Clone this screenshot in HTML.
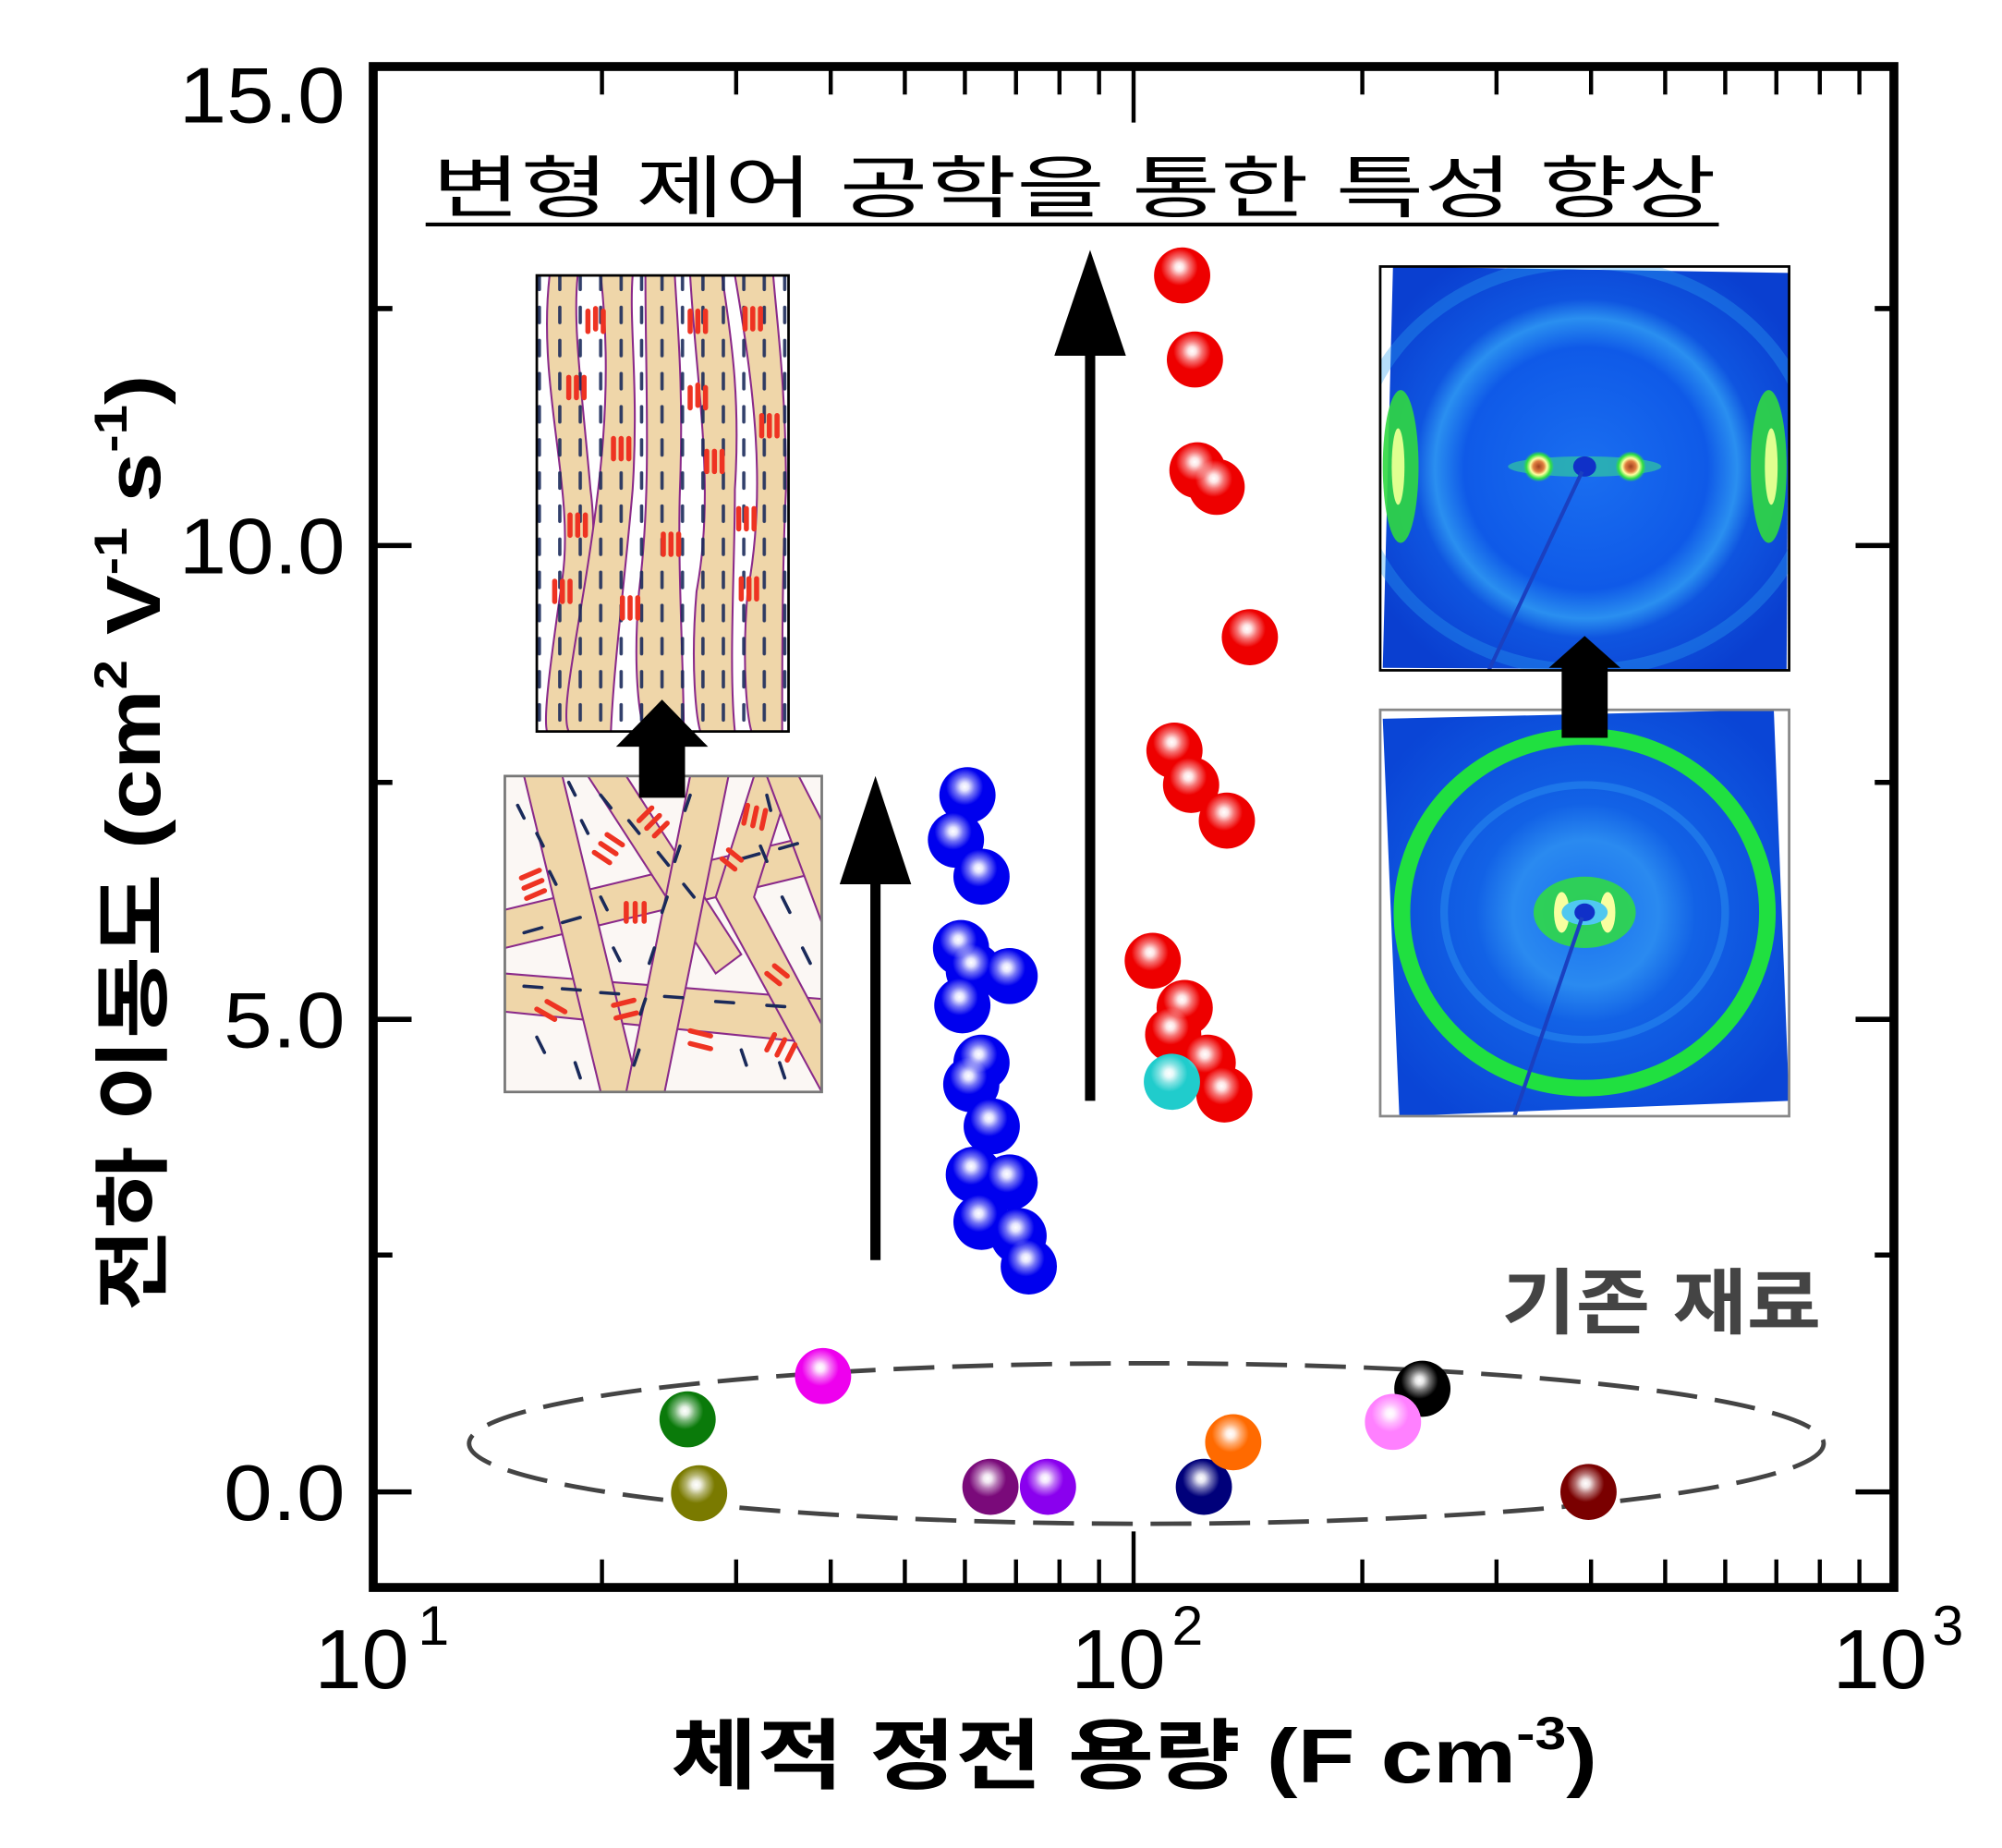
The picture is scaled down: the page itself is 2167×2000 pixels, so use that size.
<!DOCTYPE html>
<html><head><meta charset="utf-8"><style>
html,body{margin:0;padding:0;background:#fff}
svg{display:block}
text{font-family:"Liberation Sans","Noto Sans CJK KR",sans-serif}
</style></head><body>
<svg width="2167" height="2000" viewBox="0 0 2167 2000" xmlns="http://www.w3.org/2000/svg">
<defs>
<radialGradient id="sh" cx="0.45" cy="0.35" r="0.6">
<stop offset="0" stop-color="#fff" stop-opacity="1"/>
<stop offset="0.12" stop-color="#fff" stop-opacity="0.9"/>
<stop offset="0.3" stop-color="#fff" stop-opacity="0.45"/>
<stop offset="0.55" stop-color="#fff" stop-opacity="0"/>
</radialGradient>
<pattern id="dv" width="16" height="26" patternUnits="userSpaceOnUse">
<line x1="6" y1="3" x2="6" y2="15" stroke="#1a2a5a" stroke-width="2.6" stroke-linecap="round"/>
</pattern>
<radialGradient id="bgTop" cx="0.5" cy="0.5" r="0.6">
<stop offset="0" stop-color="#1a6ef0"/>
<stop offset="0.5" stop-color="#0f5ae8"/>
<stop offset="0.62" stop-color="#2a8ff0"/>
<stop offset="0.7" stop-color="#0f55e0"/>
<stop offset="1" stop-color="#0a3fd0"/>
</radialGradient>
<radialGradient id="bgBot" cx="0.5" cy="0.5" r="0.6">
<stop offset="0" stop-color="#1a70f0"/>
<stop offset="0.3" stop-color="#2a8af0"/>
<stop offset="0.45" stop-color="#1262e6"/>
<stop offset="1" stop-color="#0a45d6"/>
</radialGradient>
<radialGradient id="spot" cx="0.5" cy="0.5" r="0.5">
<stop offset="0" stop-color="#a04020"/>
<stop offset="0.35" stop-color="#e08040"/>
<stop offset="0.55" stop-color="#ffffa0"/>
<stop offset="0.8" stop-color="#30e040"/>
<stop offset="1" stop-color="#30e040" stop-opacity="0"/>
</radialGradient>
<clipPath id="c1"><rect x="420" y="212" width="197" height="358"/></clipPath>
<clipPath id="c2"><rect x="395" y="605" width="248" height="248"/></clipPath>
<clipPath id="c3"><rect x="1080" y="205" width="320" height="317"/></clipPath>
<clipPath id="c4"><rect x="1080" y="553" width="320" height="319"/></clipPath>
</defs>

<g transform="translate(404,72) scale(1.3832,1.3786) translate(-292,-48)">

<g stroke="#000" stroke-width="4">
<line x1="292" y1="1167" x2="322" y2="1167"/><line x1="292" y1="796" x2="322" y2="796"/><line x1="292" y1="424" x2="322" y2="424"/>
<line x1="1482" y1="1167" x2="1452" y2="1167"/><line x1="1482" y1="796" x2="1452" y2="796"/><line x1="1482" y1="424" x2="1452" y2="424"/>
<line x1="292" y1="981" x2="307" y2="981"/><line x1="292" y1="610" x2="307" y2="610"/><line x1="292" y1="238" x2="307" y2="238"/>
<line x1="1482" y1="981" x2="1467" y2="981"/><line x1="1482" y1="610" x2="1467" y2="610"/><line x1="1482" y1="238" x2="1467" y2="238"/>
</g>
<g stroke="#000" stroke-width="3.2">
<line x1="471" y1="1242" x2="471" y2="1220"/><line x1="576" y1="1242" x2="576" y2="1220"/><line x1="650" y1="1242" x2="650" y2="1220"/><line x1="708" y1="1242" x2="708" y2="1220"/><line x1="755" y1="1242" x2="755" y2="1220"/><line x1="795" y1="1242" x2="795" y2="1220"/><line x1="829" y1="1242" x2="829" y2="1220"/><line x1="860" y1="1242" x2="860" y2="1220"/>
<line x1="887" y1="1242" x2="887" y2="1198"/>
<line x1="1066" y1="1242" x2="1066" y2="1220"/><line x1="1171" y1="1242" x2="1171" y2="1220"/><line x1="1245" y1="1242" x2="1245" y2="1220"/><line x1="1303" y1="1242" x2="1303" y2="1220"/><line x1="1350" y1="1242" x2="1350" y2="1220"/><line x1="1390" y1="1242" x2="1390" y2="1220"/><line x1="1424" y1="1242" x2="1424" y2="1220"/><line x1="1455" y1="1242" x2="1455" y2="1220"/>
<line x1="471" y1="48" x2="471" y2="70"/><line x1="576" y1="48" x2="576" y2="70"/><line x1="650" y1="48" x2="650" y2="70"/><line x1="708" y1="48" x2="708" y2="70"/><line x1="755" y1="48" x2="755" y2="70"/><line x1="795" y1="48" x2="795" y2="70"/><line x1="829" y1="48" x2="829" y2="70"/><line x1="860" y1="48" x2="860" y2="70"/>
<line x1="887" y1="48" x2="887" y2="92"/>
<line x1="1066" y1="48" x2="1066" y2="70"/><line x1="1171" y1="48" x2="1171" y2="70"/><line x1="1245" y1="48" x2="1245" y2="70"/><line x1="1303" y1="48" x2="1303" y2="70"/><line x1="1350" y1="48" x2="1350" y2="70"/><line x1="1390" y1="48" x2="1390" y2="70"/><line x1="1424" y1="48" x2="1424" y2="70"/><line x1="1455" y1="48" x2="1455" y2="70"/>
</g>

<g font-size="62" fill="#000">
<text x="140" y="92" textLength="130" lengthAdjust="spacingAndGlyphs">15.0</text>
<text x="140" y="446" textLength="130" lengthAdjust="spacingAndGlyphs">10.0</text>
<text x="175" y="818" textLength="95" lengthAdjust="spacingAndGlyphs">5.0</text>
<text x="175" y="1189" textLength="95" lengthAdjust="spacingAndGlyphs">0.0</text>
</g>
<g font-size="66" fill="#000">
<text x="246" y="1321" textLength="74" lengthAdjust="spacingAndGlyphs">10</text><text x="327" y="1287" font-size="44">1</text>
<text x="838" y="1321" textLength="74" lengthAdjust="spacingAndGlyphs">10</text><text x="917" y="1287" font-size="44">2</text>
<text x="1434" y="1321" textLength="74" lengthAdjust="spacingAndGlyphs">10</text><text x="1512" y="1287" font-size="44">3</text>
</g>

<text x="525" y="1395" font-size="60" font-weight="bold" textLength="725" lengthAdjust="spacingAndGlyphs">체적 정전 용량 (F cm<tspan font-size="36" dy="-26">-3</tspan><tspan dy="26">)</tspan></text>
<text transform="translate(125,1025) rotate(-90)" font-size="60" font-weight="bold" textLength="735" lengthAdjust="spacingAndGlyphs">전하 이동도 (cm<tspan font-size="36" dy="-26">2</tspan><tspan dy="26"> V</tspan><tspan font-size="36" dy="-26">-1</tspan><tspan dy="26"> s</tspan><tspan font-size="36" dy="-26">-1</tspan><tspan dy="26">)</tspan></text>

<text x="338" y="162" font-size="53" textLength="1005" lengthAdjust="spacingAndGlyphs">변형 제어 공학을 통한 특성 향상</text>
<line x1="333" y1="172" x2="1345" y2="172" stroke="#000" stroke-width="3"/>

<g clip-path="url(#c1)">
<rect x="420" y="212" width="197" height="358" fill="#fff"/>
<g fill="#efd6a9" stroke="#8a2a8a" stroke-width="1.5">
<path d="M430,212 C420,300 450,380 440,450 C430,520 425,560 428,570 L455,570 C455,520 470,440 462,380 C455,300 448,250 452,212 Z"/>
<path d="M470,212 C480,300 470,380 455,470 C445,530 440,560 445,570 L478,570 C480,520 490,440 495,380 C500,300 492,250 495,212 Z"/>
<path d="M505,212 C505,300 510,380 500,460 C495,520 500,560 505,570 L535,570 C535,520 530,440 532,380 C535,300 530,250 528,212 Z"/>
<path d="M540,212 C545,300 560,380 545,460 C540,520 545,560 548,570 L575,570 C570,520 575,440 575,380 C580,300 570,250 565,212 Z"/>
<path d="M575,212 C590,300 600,380 585,460 C580,520 585,560 588,570 L612,570 C612,520 612,440 615,380 C615,300 608,250 605,212 Z"/>
</g>
<rect x="420" y="212" width="197" height="358" fill="url(#dv)" opacity="0.9"/>
<g stroke="#ee3322" stroke-width="4" stroke-linecap="round">
<path d="M460,240 v16 M466,238 v16 M472,240 v16 M540,240 v16 M546,240 v16 M552,240 v16 M583,238 v16 M589,238 v16 M595,238 v16"/>
<path d="M445,292 v16 M451,292 v16 M457,292 v16 M540,300 v16 M546,298 v16 M552,300 v16 M596,322 v16 M602,322 v16 M608,322 v16"/>
<path d="M480,340 v16 M486,340 v16 M492,340 v16 M553,350 v16 M559,350 v16 M565,350 v16"/>
<path d="M446,400 v16 M452,400 v16 M458,400 v16 M578,395 v16 M584,395 v16 M590,395 v16 M519,415 v16 M525,415 v16 M531,415 v16"/>
<path d="M434,452 v16 M440,452 v16 M446,452 v16 M487,465 v16 M493,465 v16 M499,465 v16 M580,450 v16 M586,450 v16 M592,450 v16"/>
</g>
</g>
<rect x="420" y="212" width="197" height="358" fill="none" stroke="#000" stroke-width="2"/>

<g clip-path="url(#c2)">
<rect x="395" y="605" width="248" height="248" fill="#fbf7f4"/>
<g fill="#efd6a9" stroke="#8a2a8a" stroke-width="1.5">
<path d="M395,760 L643,780 L643,815 L395,790 Z"/>
<path d="M395,710 L643,650 L643,680 L395,740 Z"/>
<path d="M410,605 L470,853 L500,853 L440,605 Z"/>
<path d="M460,605 L560,760 L580,745 L490,605 Z"/>
<path d="M540,605 L490,853 L520,853 L570,605 Z"/>
<path d="M590,605 L560,700 L643,853 L643,800 L590,700 L620,605 Z"/>
<path d="M600,605 L643,720 L643,640 L625,605 Z"/>
</g>
<g stroke="#1a2a5a" stroke-width="2.6" stroke-linecap="round">
<path d="M405,628 l5,10 M420,650 l5,10 M430,680 l5,10 M445,610 l5,10 M455,640 l5,10 M470,700 l5,10 M480,740 l5,10 M470,620 l8,10 M492,640 l8,10 M515,665 l8,10 M535,690 l8,10 M540,620 l-4,12 M532,660 l-4,12 M522,700 l-4,12 M512,740 l-4,12 M505,780 l-4,12 M500,820 l-4,12 M600,620 l3,12 M595,660 l5,12 M612,700 l6,12 M628,740 l6,12 M410,770 l14,1 M440,772 l14,1 M470,775 l14,1 M520,778 l14,1 M560,782 l14,1 M600,785 l14,1 M410,728 l14,-4 M440,720 l14,-4 M580,670 l14,-4 M610,662 l14,-4 M420,810 l6,12 M450,830 l4,12 M580,820 l4,12 M610,830 l4,12"/>
</g>
<g stroke="#ee3322" stroke-width="4" stroke-linecap="round">
<path d="M408,685 l14,-6 M410,693 l14,-6 M412,701 l14,-6 M465,665 l12,8 M470,658 l12,8 M475,651 l12,8 M500,640 l10,-10 M506,646 l10,-10 M512,652 l10,-10 M585,628 l-3,14 M592,630 l-3,14 M599,632 l-3,14 M565,670 l10,8 M570,663 l10,8 M490,705 l0,14 M497,705 l0,14 M504,705 l0,14 M420,788 l14,8 M428,782 l14,8 M480,785 l16,-4 M482,795 l16,-4 M540,805 l16,4 M540,815 l16,4 M600,820 l6,-12 M608,824 l6,-12 M616,828 l6,-12 M600,760 l10,8 M606,754 l10,8"/>
</g>
</g>
<rect x="395" y="605" width="248" height="248" fill="none" stroke="#777" stroke-width="2"/>
<polygon points="482,582 518,545 554,582 536,582 536,622 500,622 500,582" fill="#000"/>

<g clip-path="url(#c3)">
<rect x="1080" y="205" width="320" height="317" fill="#fff"/>
<polygon points="1090,205 1400,210 1398,522 1082,520" fill="url(#bgTop)"/>
<ellipse cx="1240" cy="362" rx="180" ry="160" fill="none" stroke="#2aa0f0" stroke-width="10" opacity="0.35"/>
<ellipse cx="1096" cy="362" rx="14" ry="60" fill="#30d840" opacity="0.9"/>
<ellipse cx="1384" cy="362" rx="14" ry="60" fill="#30d840" opacity="0.9"/>
<ellipse cx="1094" cy="362" rx="5" ry="30" fill="#e0ff90"/>
<ellipse cx="1386" cy="362" rx="5" ry="30" fill="#e0ff90"/>
<ellipse cx="1240" cy="362" rx="60" ry="8" fill="#30c8a0" opacity="0.7"/>
<circle cx="1204" cy="362" r="12" fill="url(#spot)"/>
<circle cx="1276" cy="362" r="12" fill="url(#spot)"/>
<ellipse cx="1240" cy="362" rx="9" ry="8" fill="#1030c8"/>
<line x1="1238" y1="366" x2="1165" y2="522" stroke="#1a40c0" stroke-width="3"/>
</g>
<rect x="1080" y="205" width="320" height="317" fill="none" stroke="#000" stroke-width="2"/>

<g clip-path="url(#c4)">
<rect x="1080" y="553" width="320" height="319" fill="#fff"/>
<polygon points="1082,560 1388,553 1400,860 1095,872" fill="url(#bgBot)"/>
<ellipse cx="1240" cy="712" rx="143" ry="138" fill="none" stroke="#20e040" stroke-width="13"/>
<ellipse cx="1240" cy="712" rx="110" ry="100" fill="none" stroke="#2a90f0" stroke-width="6" opacity="0.5"/>
<ellipse cx="1240" cy="712" rx="40" ry="28" fill="#30d848" opacity="0.9"/>
<ellipse cx="1222" cy="712" rx="6" ry="16" fill="#f8ffa0"/>
<ellipse cx="1258" cy="712" rx="6" ry="16" fill="#f8ffa0"/>
<ellipse cx="1240" cy="712" rx="18" ry="10" fill="#50c8f0"/>
<ellipse cx="1240" cy="712" rx="8" ry="7" fill="#1030c8"/>
<line x1="1238" y1="716" x2="1185" y2="872" stroke="#1a40c0" stroke-width="3"/>
</g>
<rect x="1080" y="553" width="320" height="319" fill="none" stroke="#888" stroke-width="2"/>
<polygon points="1212,520 1240,495 1268,520 1258,520 1258,575 1222,575 1222,520" fill="#000"/>

<line x1="685" y1="985" x2="685" y2="680" stroke="#000" stroke-width="8"/>
<polygon points="657,690 713,690 685,605" fill="#000"/>
<line x1="853" y1="860" x2="853" y2="265" stroke="#000" stroke-width="8"/>
<polygon points="825,275 881,275 853,192" fill="#000"/>

<ellipse cx="897" cy="1129" rx="530" ry="63" fill="none" stroke="#444" stroke-width="3.5" stroke-dasharray="32,14"/>
<text x="1175" y="1038" font-size="56" font-weight="bold" fill="#444" textLength="250" lengthAdjust="spacingAndGlyphs">기존 재료</text>

<g>
<g fill="#0000ee">
<circle cx="805" cy="990" r="22"/><circle cx="797" cy="966" r="22"/><circle cx="768" cy="955" r="22"/><circle cx="790" cy="924" r="22"/><circle cx="762" cy="918" r="22"/><circle cx="776" cy="880" r="22"/><circle cx="760" cy="847" r="22"/><circle cx="768" cy="830" r="22"/><circle cx="790" cy="762" r="22"/><circle cx="762" cy="758" r="22"/><circle cx="752" cy="740" r="22"/><circle cx="753" cy="785" r="22"/><circle cx="768" cy="684" r="22"/><circle cx="748" cy="655" r="22"/><circle cx="757" cy="620" r="22"/>
</g>
<g fill="#ee0000">
<circle cx="958" cy="855" r="22"/><circle cx="945" cy="830" r="22"/><circle cx="918" cy="808" r="22"/><circle cx="927" cy="787" r="22"/><circle cx="902" cy="750" r="22"/><circle cx="960" cy="640" r="22"/><circle cx="932" cy="612" r="22"/><circle cx="919" cy="585" r="22"/><circle cx="978" cy="496" r="22"/><circle cx="952" cy="378" r="22"/><circle cx="937" cy="365" r="22"/><circle cx="935" cy="278" r="22"/><circle cx="925" cy="212" r="22"/>
</g>
<circle cx="917" cy="845" r="22" fill="#20cccc"/>
<circle cx="538" cy="1110" r="22" fill="#0a7a0a"/>
<circle cx="547" cy="1168" r="22" fill="#7a7a00"/>
<circle cx="644" cy="1076" r="22" fill="#ee00ee"/>
<circle cx="775" cy="1163" r="22" fill="#7a0a7a"/>
<circle cx="820" cy="1163" r="22" fill="#8a00ee"/>
<circle cx="942" cy="1163" r="22" fill="#00007a"/>
<circle cx="965" cy="1128" r="22" fill="#ff6a00"/>
<circle cx="1113" cy="1086" r="22" fill="#000"/>
<circle cx="1090" cy="1112" r="22" fill="#ff80ff"/>
<circle cx="1243" cy="1167" r="22" fill="#7a0000"/>
</g>
<g fill="url(#sh)">
<circle cx="805" cy="990" r="22"/><circle cx="797" cy="966" r="22"/><circle cx="768" cy="955" r="22"/><circle cx="790" cy="924" r="22"/><circle cx="762" cy="918" r="22"/><circle cx="776" cy="880" r="22"/><circle cx="760" cy="847" r="22"/><circle cx="768" cy="830" r="22"/><circle cx="790" cy="762" r="22"/><circle cx="762" cy="758" r="22"/><circle cx="752" cy="740" r="22"/><circle cx="753" cy="785" r="22"/><circle cx="768" cy="684" r="22"/><circle cx="748" cy="655" r="22"/><circle cx="757" cy="620" r="22"/>
<circle cx="958" cy="855" r="22"/><circle cx="945" cy="830" r="22"/><circle cx="918" cy="808" r="22"/><circle cx="927" cy="787" r="22"/><circle cx="902" cy="750" r="22"/><circle cx="960" cy="640" r="22"/><circle cx="932" cy="612" r="22"/><circle cx="919" cy="585" r="22"/><circle cx="978" cy="496" r="22"/><circle cx="952" cy="378" r="22"/><circle cx="937" cy="365" r="22"/><circle cx="935" cy="278" r="22"/><circle cx="925" cy="212" r="22"/>
<circle cx="917" cy="845" r="22"/><circle cx="538" cy="1110" r="22"/><circle cx="547" cy="1168" r="22"/><circle cx="644" cy="1076" r="22"/><circle cx="775" cy="1163" r="22"/><circle cx="820" cy="1163" r="22"/><circle cx="942" cy="1163" r="22"/><circle cx="965" cy="1128" r="22"/><circle cx="1113" cy="1086" r="22"/><circle cx="1090" cy="1112" r="22"/><circle cx="1243" cy="1167" r="22"/>
</g>

<rect x="292" y="48" width="1190" height="1194" fill="none" stroke="#000" stroke-width="7"/>
</g>
</svg>
</body></html>
